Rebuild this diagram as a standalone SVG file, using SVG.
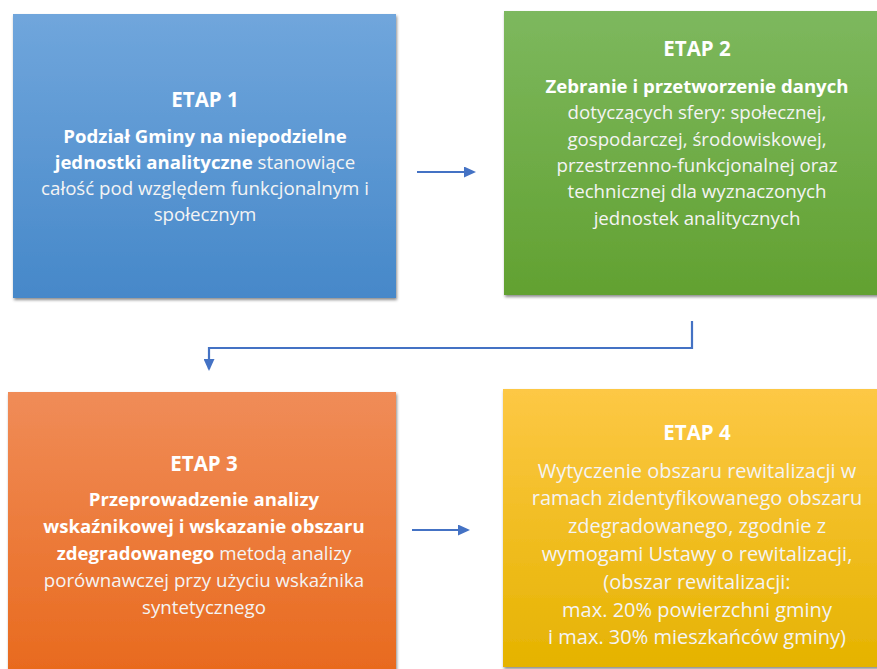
<svg xmlns="http://www.w3.org/2000/svg" width="877" height="669" viewBox="0 0 877 669">
<style>
text{font-family:"Open Sans","Noto Sans",sans-serif;font-size:18.7px;fill:#ffffff;text-anchor:middle}
.b{font-weight:bold;font-size:18.6px}
.h{font-weight:bold;font-size:20.5px}
.r{fill:#f4f4f4}
.big{font-size:20px}
.conn{fill:none;stroke:#4472c4;stroke-width:2.2}
</style>
<defs>
<linearGradient id="g1" x1="0" y1="0" x2="0" y2="1"><stop offset="0" stop-color="#70a6dc"/><stop offset="1" stop-color="#4688c9"/></linearGradient>
<linearGradient id="g2" x1="0" y1="0" x2="0" y2="1"><stop offset="0" stop-color="#7db85e"/><stop offset="1" stop-color="#62a131"/></linearGradient>
<linearGradient id="g3" x1="0" y1="0" x2="0" y2="1"><stop offset="0" stop-color="#f08c58"/><stop offset="1" stop-color="#e8691c"/></linearGradient>
<linearGradient id="g4" x1="0" y1="0" x2="0" y2="1"><stop offset="0" stop-color="#fdc845"/><stop offset="1" stop-color="#e5b300"/></linearGradient>
<filter id="sh" x="-5%" y="-5%" width="110%" height="110%"><feDropShadow dx="1" dy="2" stdDeviation="1.5" flood-color="#000" flood-opacity="0.45"/></filter>
<marker id="ah" markerWidth="12" markerHeight="11" refX="10" refY="5.5" orient="auto" markerUnits="userSpaceOnUse"><path d="M0,0 L12,5.5 L0,11 Z" fill="#4472c4"/></marker>
</defs>
<g id="etap1">
<rect x="13" y="14" width="383" height="284" fill="url(#g1)" filter="url(#sh)"/>
<text x="205" y="107" class="h">ETAP 1</text>
<text x="205" y="143" class="b">Podział Gminy na niepodzielne</text>
<text x="205" y="169"><tspan class="b">jednostki analityczne</tspan><tspan class="r"> stanowiące</tspan></text>
<text x="205" y="195" class="r">całość pod względem funkcjonalnym i</text>
<text x="205" y="221" class="r">społecznym</text>
</g>
<g id="etap2">
<rect x="504" y="11" width="384" height="284" fill="url(#g2)" filter="url(#sh)"/>
<text x="697" y="56" class="h">ETAP 2</text>
<text x="697" y="93" class="b">Zebranie i przetworzenie danych</text>
<text x="697" y="119" class="r">dotyczących sfery: społecznej,</text>
<text x="697" y="146" class="r">gospodarczej, środowiskowej,</text>
<text x="697" y="172" class="r">przestrzenno-funkcjonalnej oraz</text>
<text x="697" y="198" class="r">technicznej dla wyznaczonych</text>
<text x="697" y="225" class="r">jednostek analitycznych</text>
</g>
<g id="etap3">
<rect x="8" y="392" width="388" height="290" fill="url(#g3)" filter="url(#sh)"/>
<text x="204" y="471" class="h">ETAP 3</text>
<text x="204" y="506" class="b">Przeprowadzenie analizy</text>
<text x="204" y="533" class="b">wskaźnikowej i wskazanie obszaru</text>
<text x="204" y="560"><tspan class="b">zdegradowanego</tspan><tspan class="r"> metodą analizy</tspan></text>
<text x="204" y="587" class="r">porównawczej przy użyciu wskaźnika</text>
<text x="204" y="614" class="r">syntetycznego</text>
</g>
<g id="etap4">
<rect x="503" y="389" width="385" height="278" fill="url(#g4)" filter="url(#sh)"/>
<text x="697" y="440" class="h">ETAP 4</text>
<text x="697" y="478" class="r big">Wytyczenie obszaru rewitalizacji w</text>
<text x="697" y="505" class="r big">ramach zidentyfikowanego obszaru</text>
<text x="697" y="533" class="r big">zdegradowanego, zgodnie z</text>
<text x="697" y="561" class="r big">wymogami Ustawy o rewitalizacji,</text>
<text x="697" y="589" class="r big">(obszar rewitalizacji:</text>
<text x="697" y="617" class="r big">max. 20% powierzchni gminy</text>
<text x="697" y="644" class="r big">i max. 30% mieszkańców gminy)</text>
</g>
<g id="connectors">
<path class="conn" d="M417,172 H474" marker-end="url(#ah)"/>
<path class="conn" d="M692,321 V348 H209 V369" marker-end="url(#ah)"/>
<path class="conn" d="M412,530 H468" marker-end="url(#ah)"/>
</g>
</svg>
